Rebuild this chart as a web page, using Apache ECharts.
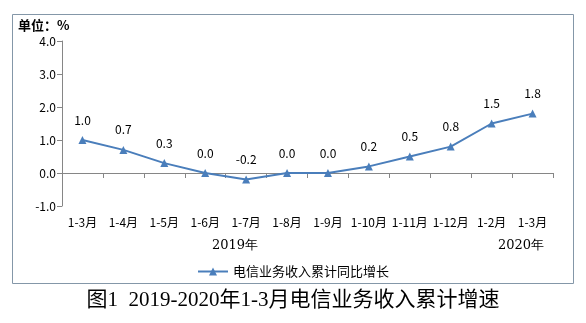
<!DOCTYPE html>
<html><head><meta charset="utf-8">
<script src="https://cdn.jsdelivr.net/npm/echarts@6/dist/echarts.min.js"></script>
<style>html,body{margin:0;padding:0;background:#fff}#c{width:586px;height:323px}</style>
</head><body><div id="c"></div>
<script>
const categories = ['1-3月','1-4月','1-5月','1-6月','1-7月','1-8月','1-9月','1-10月','1-11月','1-12月','1-2月','1-3月'];
const growth = [1.0, 0.7, 0.3, 0.0, -0.2, 0.0, 0.0, 0.2, 0.5, 0.8, 1.5, 1.8];
const seriesName = '电信业务收入累计同比增长';
const yearLabels = ['2019年', '2020年'];
const unitLabel = '单位：%';
const titleText = '图1  2019-2020年1-3月电信业务收入累计增速';

const chart = echarts.init(document.getElementById('c'));
const sans = '"Noto Sans CJK SC", "Noto Sans", sans-serif';
chart.setOption({
  animation: false,
  grid: {left: 62, right: 33, top: 41, bottom: 117},
  legend: {
    data: [seriesName],
    left: 'center', top: 260, itemWidth: 30, itemHeight: 10, itemGap: 5,
    textStyle: {fontFamily: sans, fontSize: 13, color: '#000'}
  },
  xAxis: {
    type: 'category', data: categories, boundaryGap: true,
    axisLine: {lineStyle: {color: '#868686'}},
    axisTick: {show: true, length: 5, lineStyle: {color: '#868686'}},
    axisLabel: {fontFamily: sans, fontSize: 12, color: '#000', margin: 10, interval: 0}
  },
  yAxis: {
    type: 'value', min: -1, max: 4, interval: 1,
    splitLine: {show: false},
    axisLine: {show: true, lineStyle: {color: '#868686'}},
    axisTick: {show: true, length: 5, lineStyle: {color: '#868686'}},
    axisLabel: {fontFamily: sans, fontSize: 12, color: '#000', margin: 6, formatter: v => v.toFixed(1)}
  },
  series: [{
    name: seriesName, type: 'line', data: growth,
    symbol: 'triangle', symbolSize: 8,
    lineStyle: {color: '#4a7ebb', width: 2},
    itemStyle: {color: '#4a7ebb'},
    label: {show: true, position: 'top', distance: 10, fontFamily: sans, fontSize: 12, color: '#000',
      formatter: p => p.value.toFixed(1)}
  }],
  graphic: [
    {type: 'rect', shape: {x: 12.5, y: 14.5, width: 561, height: 269}, style: {fill: 'none', stroke: '#8497a8', lineWidth: 1}, silent: true},
    {type: 'text', left: 18, top: 19, style: {text: unitLabel, font: 'bold 13px ' + sans, fill: '#000'}},
    {type: 'text', left: 212, top: 239, style: {text: yearLabels[0], font: '13px "DejaVu Serif", "Liberation Serif", serif', fill: '#000'}},
    {type: 'text', left: 498, top: 239, style: {text: yearLabels[1], font: '13px "DejaVu Serif", "Liberation Serif", serif', fill: '#000'}},
    {type: 'text', left: 'center', top: 290, style: {text: titleText, font: '21px "Liberation Serif", "Noto Sans CJK SC", serif', fill: '#000'}}
  ]
});
</script></body></html>
